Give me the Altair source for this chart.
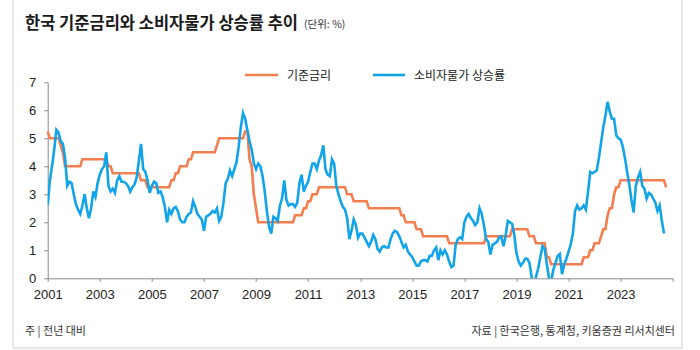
import altair as alt
import pandas as pd

# ---- data (monthly, Jan..Dec) ----
years = list(range(2001, 2025))

base_rate = {
    2001: [5.25, 5.0, 5.0, 5.0, 5.0, 5.0, 4.75, 4.5, 4.0, 4.0, 4.0, 4.0],
    2002: [4.0, 4.0, 4.0, 4.0, 4.25, 4.25, 4.25, 4.25, 4.25, 4.25, 4.25, 4.25],
    2003: [4.25, 4.25, 4.25, 4.25, 4.0, 4.0, 3.75, 3.75, 3.75, 3.75, 3.75, 3.75],
    2004: [3.75, 3.75, 3.75, 3.75, 3.75, 3.75, 3.75, 3.5, 3.5, 3.5, 3.25, 3.25],
    2005: [3.25, 3.25, 3.25, 3.25, 3.25, 3.25, 3.25, 3.25, 3.25, 3.5, 3.5, 3.75],
    2006: [3.75, 4.0, 4.0, 4.0, 4.0, 4.25, 4.25, 4.5, 4.5, 4.5, 4.5, 4.5],
    2007: [4.5, 4.5, 4.5, 4.5, 4.5, 4.5, 4.75, 5.0, 5.0, 5.0, 5.0, 5.0],
    2008: [5.0, 5.0, 5.0, 5.0, 5.0, 5.0, 5.0, 5.25, 5.25, 4.25, 4.0, 3.0],
    2009: [2.5, 2.0, 2.0, 2.0, 2.0, 2.0, 2.0, 2.0, 2.0, 2.0, 2.0, 2.0],
    2010: [2.0, 2.0, 2.0, 2.0, 2.0, 2.0, 2.25, 2.25, 2.25, 2.25, 2.5, 2.5],
    2011: [2.75, 2.75, 3.0, 3.0, 3.0, 3.25, 3.25, 3.25, 3.25, 3.25, 3.25, 3.25],
    2012: [3.25, 3.25, 3.25, 3.25, 3.25, 3.25, 3.0, 3.0, 3.0, 2.75, 2.75, 2.75],
    2013: [2.75, 2.75, 2.75, 2.75, 2.5, 2.5, 2.5, 2.5, 2.5, 2.5, 2.5, 2.5],
    2014: [2.5, 2.5, 2.5, 2.5, 2.5, 2.5, 2.5, 2.25, 2.25, 2.0, 2.0, 2.0],
    2015: [2.0, 2.0, 1.75, 1.75, 1.75, 1.5, 1.5, 1.5, 1.5, 1.5, 1.5, 1.5],
    2016: [1.5, 1.5, 1.5, 1.5, 1.5, 1.25, 1.25, 1.25, 1.25, 1.25, 1.25, 1.25],
    2017: [1.25, 1.25, 1.25, 1.25, 1.25, 1.25, 1.25, 1.25, 1.25, 1.25, 1.5, 1.5],
    2018: [1.5, 1.5, 1.5, 1.5, 1.5, 1.5, 1.5, 1.5, 1.5, 1.5, 1.75, 1.75],
    2019: [1.75, 1.75, 1.75, 1.75, 1.75, 1.75, 1.5, 1.5, 1.5, 1.25, 1.25, 1.25],
    2020: [1.25, 1.25, 0.75, 0.75, 0.5, 0.5, 0.5, 0.5, 0.5, 0.5, 0.5, 0.5],
    2021: [0.5, 0.5, 0.5, 0.5, 0.5, 0.5, 0.5, 0.75, 0.75, 0.75, 1.0, 1.0],
    2022: [1.25, 1.25, 1.25, 1.5, 1.75, 1.75, 2.25, 2.5, 2.5, 3.0, 3.25, 3.25],
    2023: [3.5, 3.5, 3.5, 3.5, 3.5, 3.5, 3.5, 3.5, 3.5, 3.5, 3.5, 3.5],
    2024: [3.5, 3.5, 3.5, 3.5, 3.5, 3.5, 3.5, 3.5, 3.5, 3.25],
}

cpi = {
    2001: [2.6, 3.5, 4.0, 4.6, 5.3, 5.2, 4.9, 4.8, 4.3, 3.3, 3.45, 3.4],
    2002: [3.0, 2.65, 2.45, 2.3, 2.6, 3.0, 2.5, 2.15, 2.5, 3.1, 2.9, 3.4],
    2003: [3.7, 3.9, 4.0, 4.5, 3.3, 3.1, 3.2, 3.05, 3.5, 3.65, 3.45, 3.45],
    2004: [3.4, 3.3, 3.1, 3.25, 3.35, 3.6, 4.2, 4.8, 3.9, 3.8, 3.5, 3.05],
    2005: [3.3, 3.45, 3.4, 3.05, 3.1, 2.9, 2.55, 2.0, 2.45, 2.3, 2.5, 2.55],
    2006: [2.4, 2.1, 2.0, 2.0, 2.2, 2.3, 2.35, 2.75, 2.55, 2.3, 2.2, 2.1],
    2007: [1.7, 2.2, 2.25, 2.3, 2.4, 2.35, 2.5, 2.05, 2.2, 2.7, 3.4, 3.55],
    2008: [3.85, 3.65, 3.9, 4.15, 4.7, 5.4, 5.9, 5.7, 5.3, 4.9, 4.6, 4.1],
    2009: [3.9, 4.1, 4.0, 3.65, 3.1, 2.4, 1.85, 1.6, 2.2, 2.15, 2.05, 2.6],
    2010: [2.85, 3.5, 2.8, 2.6, 2.65, 2.65, 2.55, 2.7, 3.4, 3.7, 3.1, 3.3],
    2011: [3.45, 3.8, 4.1, 4.1, 3.9, 4.2, 4.4, 4.75, 3.9, 3.7, 3.65, 4.25],
    2012: [4.1, 3.3, 3.0, 2.75, 2.55, 2.45, 2.15, 1.4, 1.7, 2.1, 1.9, 1.45],
    2013: [1.6, 1.6, 1.45, 1.3, 1.15, 1.3, 1.55, 1.4, 1.05, 0.95, 1.1, 1.15],
    2014: [1.1, 1.1, 1.4, 1.6, 1.7, 1.65, 1.5, 1.3, 1.1, 1.2, 0.95, 0.85],
    2015: [0.75, 0.6, 0.45, 0.45, 0.6, 0.65, 0.65, 0.6, 0.8, 0.8, 1.0, 1.1],
    2016: [0.65, 1.0, 0.85, 1.0, 0.85, 0.6, 0.4, 0.45, 1.2, 1.4, 1.47, 1.4],
    2017: [2.0, 2.2, 2.3, 2.15, 2.05, 1.9, 2.0, 2.5, 2.3, 1.9, 1.4, 1.3],
    2018: [0.85, 1.2, 1.25, 1.3, 1.45, 1.5, 1.15, 1.5, 2.05, 2.0, 1.95, 1.55],
    2019: [0.9, 0.6, 0.45, 0.55, 0.7, 0.7, 0.55, 0.05, -0.3, 0.05, 0.35, 0.75],
    2020: [1.15, 1.05, 0.5, 0.0, -0.1, 0.3, 0.55, 0.8, 0.87, 0.15, 0.5, 0.7],
    2021: [0.95, 1.2, 1.6, 2.4, 2.6, 2.45, 2.5, 2.6, 2.45, 3.1, 3.8, 3.75],
    2022: [3.8, 3.85, 4.3, 4.85, 5.4, 5.8, 6.3, 5.95, 5.7, 5.7, 5.1, 5.0],
    2023: [4.95, 4.7, 4.3, 3.8, 3.35, 2.8, 2.35, 3.3, 3.6, 3.8, 3.3, 3.2],
    2024: [2.85, 3.05, 3.0, 2.85, 2.7, 2.4, 2.6, 2.05, 1.6],
}

x_ticks = list(range(2001, 2026, 2))
y_ticks = [0, 1, 2, 3, 4, 5, 6, 7]

title_text = "한국 기준금리와 소비자물가 상승률 추이"
unit_text = "(단위: %)"
legend_rate = "기준금리"
legend_cpi = "소비자물가 상승률"
note_text = "주 | 전년 대비"
source_text = "자료 | 한국은행, 통계청, 키움증권 리서치센터"

ORANGE = "#F37E50"
BLUE = "#12A4E8"
AXIS = "#8a8a8a"
FRAME = "#cfcfcf"
KFONT = "Noto Sans CJK KR"
NFONT = "Liberation Sans"


def to_rows(d):
    rows = []
    for y in years:
        for i, v in enumerate(d[y]):
            rows.append({"t": y + i / 12.0, "v": v})
    return pd.DataFrame(rows)


df_rate = to_rows(base_rate)
df_cpi = to_rows(cpi)
one = pd.DataFrame({"a": [0]})

W, H = 625, 196
L, T = 47.7, 82.3

xs = alt.Scale(domain=[2001, 2025], nice=False, zero=False)
ys = alt.Scale(domain=[0, 7], nice=False)

xaxis = alt.Axis(
    values=x_ticks, format="d",
    labelExpr="datum.value == 2025 ? '' : datum.label",
    title=None, grid=False, tickSize=3, labelPadding=7,
    domainColor=AXIS, tickColor=AXIS, labelColor="#222222",
    labelFont=NFONT, labelFontSize=13, labelFlush=False, labelOverlap=False,
)
yaxis = alt.Axis(
    values=y_ticks, format="d", title=None, grid=False, tickSize=4,
    labelPadding=8, domainColor=AXIS, tickColor=AXIS, labelColor="#222222",
    labelFont=NFONT, labelFontSize=13, labelOverlap=False, labelFlush=False,
    tickCount=8,
)

rate_line = alt.Chart(df_rate).mark_line(color=ORANGE, strokeWidth=2.6).encode(
    x=alt.X("t:Q", scale=xs, axis=xaxis),
    y=alt.Y("v:Q", scale=ys, axis=yaxis),
)
cpi_line = alt.Chart(df_cpi).mark_line(color=BLUE, strokeWidth=2.6, clip=True).encode(
    x=alt.X("t:Q", scale=xs, axis=xaxis),
    y=alt.Y("v:Q", scale=ys, axis=yaxis),
)


def txt(text, x, y, size, align="left", weight="normal", color="#222222", baseline="alphabetic"):
    return alt.Chart(one).mark_text(
        text=text, align=align, baseline=baseline, fontSize=size, fontWeight=weight,
        font=KFONT, color=color,
    ).encode(x=alt.value(x), y=alt.value(y))


def rule(x1, x2, y1, y2, color, width):
    return alt.Chart(one).mark_rule(color=color, strokeWidth=width).encode(
        x=alt.value(x1), x2=alt.value(x2), y=alt.value(y1), y2=alt.value(y2)
    )


layers = [
    rate_line,
    cpi_line,
    # frame
    rule(13 - L, 13 - L, -T - 5, 348 - T, FRAME, 1),
    rule(682 - L, 682 - L, -T - 5, 348 - T, FRAME, 1),
    rule(13 - L, 682 - L, 348 - T, 348 - T, FRAME, 1),
    # legend
    rule(245 - L, 278 - L, 75 - T, 75 - T, ORANGE, 2.6),
    txt(legend_rate, 287 - L, 75.5 - T, 12, baseline="middle"),
    rule(373 - L, 405 - L, 75 - T, 75 - T, BLUE, 2.6),
    txt(legend_cpi, 414 - L, 75.5 - T, 12, baseline="middle"),
    # titles
    txt(title_text, 25 - L, 29 - T, 16.5, weight="bold", color="#1a1a1a"),
    txt(unit_text, 304 - L, 28 - T, 10.5, color="#333333"),
    txt(note_text, 25 - L, 335 - T, 11, color="#333333"),
    txt(source_text, 675 - L, 335 - T, 11, align="right", color="#333333"),
]

chart = alt.layer(*layers).properties(
    width=W, height=H,
    autosize=alt.AutoSizeParams(type="none"),
    padding={"left": L, "top": T, "right": 700 - L - W, "bottom": 350 - T - H},
    background="white",
).configure_view(stroke=None)

chart.save("out.html", embed_options={"renderer": "svg", "actions": False})
